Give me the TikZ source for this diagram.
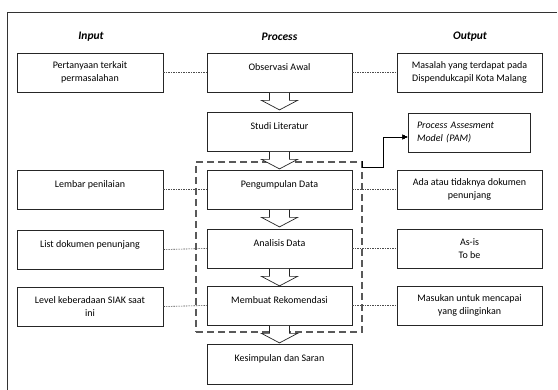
\documentclass[tikz,border=0pt]{standalone}
\usepackage{fontspec}
\setmainfont{Carlito}
\usetikzlibrary{positioning,calc,arrows.meta}

\tikzset{
	box/.style={draw=black!85, line width=0.8pt, minimum width=145pt, minimum height=39pt,
		inner sep=2pt, align=center, font=\fontsize{10}{13.5}\selectfont},
	oneline/.style={text depth=11pt},
	head/.style={font=\fontsize{11.5}{14}\selectfont\bfseries\itshape},
	link/.style={draw=black!70, line width=0.6pt, dash pattern=on 1.5pt off 1pt},
	grp/.style={draw=black!65, line width=1.4pt, dash pattern=on 7pt off 4pt,
		minimum width=166pt, minimum height=170pt, inner sep=0pt},
	flowarrow/.style={draw=black!85, line width=0.7pt, fill=white},
	frame/.style={draw=black!80, line width=1pt}
}
% hollow block arrow below a process box
\newcommand\flow[1]{%
	\draw[flowarrow] ($(#1.south)+(-10,0.5)$) -- ++(0,7.5) -- ++(-8,0) -- ++(18,9.5)
		-- ++(18,-9.5) -- ++(-8,0) -- ++(0,-7.5);}

\begin{document}
\begin{tikzpicture}[x=1pt,y=-1pt]
	\useasboundingbox (0,0) rectangle (558,390);
	\draw[frame] (7,390) -- (7,13) -- (557,13);
	% column heads
	\node[head] (hin) at (91,37) {Input};
	\node[head] (hproc) at (279.5,37) {Process};
	\node[head] (hout) at (470,37) {Output};
	% input
	\node[box, minimum width=146pt] (tanya) at (90,72.5) {Pertanyaan terkait\\permasalahan};
	\node[box, minimum width=146pt, oneline] (lembar) at (90,189.5) {Lembar penilaian};
	\node[box, minimum width=146pt, oneline] (list) at (90,249.5) {List dokumen penunjang};
	\node[box, minimum width=146pt] (level) at (90,306.5) {Level keberadaan SIAK saat\\ini};
	% process
	\node[grp] (grp) at (279,247) {};
	\node[box, oneline] (obs) at (279.5,72.5) {Observasi Awal};
	\node[box, oneline] (lit) at (279.5,131.5) {Studi Literatur};
	\node[box, oneline, fill=white] (kumpul) at (279.5,189.5) {Pengumpulan Data};
	\node[box, oneline] (analisis) at (279.5,248.5) {Analisis Data};
	\node[box, oneline] (rekom) at (279.5,305.5) {Membuat Rekomendasi};
	\node[box, oneline, minimum height=40pt] (simpul) at (279.5,364) {Kesimpulan dan Saran};
	% output
	\node[box] (masalah) at (469.5,72.5) {Masalah yang terdapat pada\\Dispendukcapil Kota Malang};
	\node[box, minimum width=122pt, text width=104pt, align=left,
		font=\fontsize{10}{13}\selectfont\itshape] (pam) at (469,132.5) {Process Assesment\\Model (PAM)};
	\node[box] (ada) at (469.5,189.5) {Ada atau tidaknya dokumen\\penunjang};
	\node[box] (asis) at (469.5,248.5) {As-is\\To be};
	\node[box] (masukan) at (469.5,305.5) {Masukan untuk mencapai\\yang diinginkan};
	% dotted links
	\foreach \a/\b in {tanya/obs, obs/masalah, lembar/kumpul, kumpul/ada,
		list/analisis, analisis/asis, level/rekom, rekom/masukan}
		\draw[link] (\a.east) -- (\b.west);
	% flow
	\foreach \n in {obs, lit, kumpul, analisis, rekom}
		\flow{\n}
	\draw[line width=0.9pt, -{Latex[length=5pt,width=5pt]}] (grp.north east) -- ++(0,6)
		-| ([xshift=-24pt,yshift=-4.5pt]pam.west) -- ([yshift=-4.5pt]pam.west);
\end{tikzpicture}
\end{document}
